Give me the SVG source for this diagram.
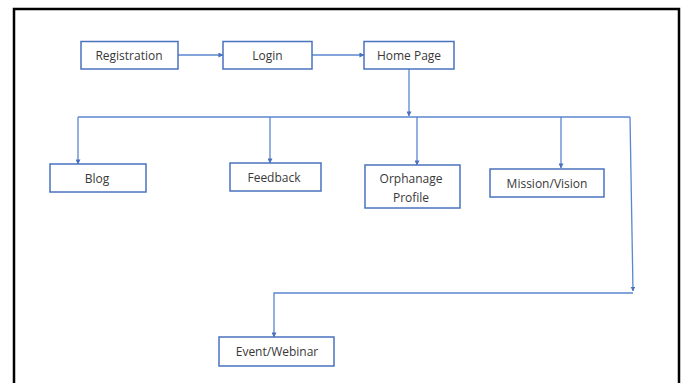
<svg xmlns="http://www.w3.org/2000/svg" width="684" height="383" viewBox="0 0 684 383">
<style>
.box{fill:#fff;stroke:#4a72be;stroke-width:1.5}
.lbl{font-family:"Open Sans","Liberation Sans",sans-serif;font-size:12px;fill:#383838;text-anchor:middle}
.conn{fill:none;stroke:#5b86d0;stroke-width:1.3}
</style>
<defs>
<marker id="ah" viewBox="0 0 6 6" refX="5.5" refY="3" markerWidth="5" markerHeight="5" orient="auto" markerUnits="userSpaceOnUse">
<path d="M0,0 L6,3 L0,6 Z" fill="#4a72be"/>
</marker>
</defs>
<rect width="684" height="383" fill="#fff"/>
<path d="M14,383 V9 H679 V383" fill="none" stroke="#000" stroke-width="2.5"/>
<g id="connectors">
<path class="conn" d="M178,55 H223" marker-end="url(#ah)"/>
<path class="conn" d="M312,55 H364" marker-end="url(#ah)"/>
<path class="conn" d="M409,69 V116" marker-end="url(#ah)"/>
<path class="conn" d="M78,117 H630"/>
<path class="conn" d="M78,117 V164" marker-end="url(#ah)"/>
<path class="conn" d="M270,117 V163" marker-end="url(#ah)"/>
<path class="conn" d="M417,117 V165" marker-end="url(#ah)"/>
<path class="conn" d="M561,117 V168" marker-end="url(#ah)"/>
<path class="conn" d="M630,117 L633,291" marker-end="url(#ah)"/>
<path class="conn" d="M633,293 H274 V337" marker-end="url(#ah)"/>
</g>
<g id="registration"><rect class="box" x="81" y="41.5" width="97" height="27.5"/><text class="lbl" x="129" y="59.5">Registration</text></g>
<g id="login"><rect class="box" x="223" y="41.5" width="89" height="27.5"/><text class="lbl" x="267.5" y="60">Login</text></g>
<g id="homepage"><rect class="box" x="364" y="41.5" width="90" height="27.5"/><text class="lbl" x="409" y="60">Home Page</text></g>
<g id="blog"><rect class="box" x="50" y="164" width="96" height="28"/><text class="lbl" x="97" y="182.5">Blog</text></g>
<g id="feedback"><rect class="box" x="230" y="163" width="91" height="28"/><text class="lbl" x="274" y="181.5">Feedback</text></g>
<g id="orphanage"><rect class="box" x="365" y="165" width="95" height="43"/><text class="lbl" x="411" y="183">Orphanage</text><text class="lbl" x="411" y="201.5">Profile</text></g>
<g id="mission"><rect class="box" x="490" y="169" width="114" height="28"/><text class="lbl" x="547" y="187.5">Mission/Vision</text></g>
<g id="event"><rect class="box" x="219" y="337" width="115" height="29"/><text class="lbl" x="277" y="355.5">Event/Webinar</text></g>
</svg>
